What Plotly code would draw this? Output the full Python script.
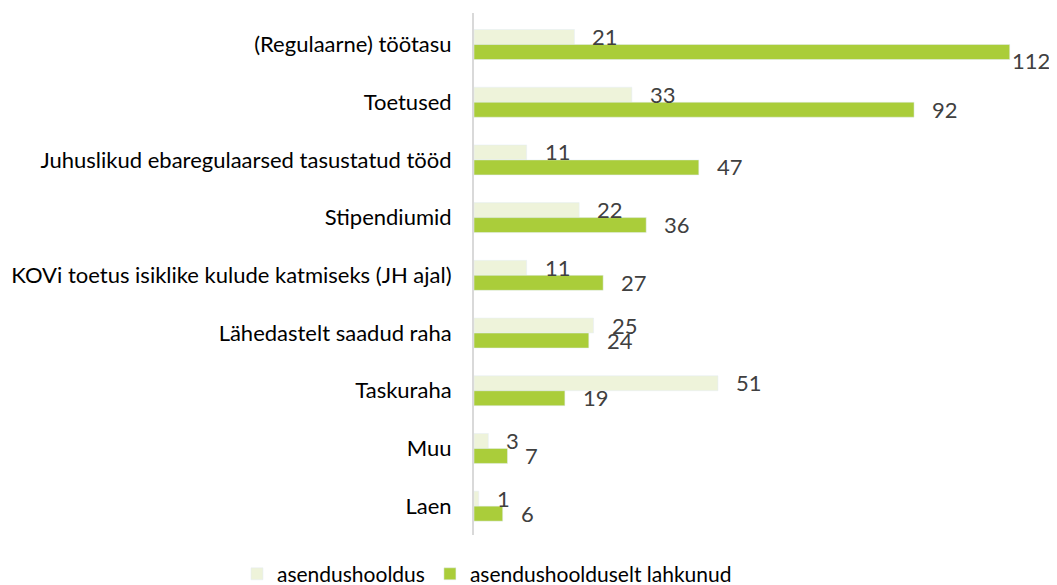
import plotly.graph_objects as go

categories = [
    "(Regulaarne) töötasu",
    "Toetused",
    "Juhuslikud ebaregulaarsed tasustatud tööd",
    "Stipendiumid",
    "KOVi toetus isiklike kulude katmiseks (JH ajal)",
    "Lähedastelt saadud raha",
    "Taskuraha",
    "Muu",
    "Laen",
]
asendushooldus = [21, 33, 11, 22, 11, 25, 51, 3, 1]
lahkunud = [112, 92, 47, 36, 27, 24, 19, 7, 6]
series_names = ["asendushooldus", "asendushoolduselt lahkunud"]

light = "#EEF3DA"
green = "#AACD3A"
font_family = "Lato, 'Open Sans', sans-serif"

fig = go.Figure()
fig.add_trace(go.Bar(y=categories, x=asendushooldus, orientation="h",
                     name=series_names[0], marker_color=light))
fig.add_trace(go.Bar(y=categories, x=lahkunud, orientation="h",
                     name=series_names[1], marker_color=green))

label_font = dict(size=22, color="#404040", family=font_family)
annotations = []
for c, v in zip(categories, asendushooldus):
    annotations.append(dict(x=v, y=c, text=str(v), showarrow=False, xanchor="left",
                            xshift=16, yshift=8, font=label_font))
vmax = max(lahkunud)
for c, v in zip(categories, lahkunud):
    big = v == vmax
    annotations.append(dict(x=v, y=c, text=str(v), showarrow=False, xanchor="left",
                            xshift=0 if big else 16, yshift=-16 if big else -7,
                            font=label_font))

fig.update_layout(
    width=1041, height=577,
    margin=dict(l=466, r=1, t=5, b=50, autoexpand=False),
    paper_bgcolor="white", plot_bgcolor="white",
    barmode="group", bargap=0.48, bargroupgap=0,
    font=dict(family=font_family, size=22, color="#000000"),
    annotations=annotations,
    showlegend=True,
    legend=dict(orientation="h", x=0.0226, xanchor="center", y=-0.075, yanchor="middle",
                font=dict(size=21, color="#000000"), traceorder="normal"),
    xaxis=dict(range=[0, 120], visible=False, showgrid=False, zeroline=False),
    yaxis=dict(autorange="reversed", showline=True, linecolor="#D9D9D9", linewidth=2,
               ticks="", showgrid=False, ticklabelstandoff=16, automargin=False,
               tickfont=dict(size=22, color="#000000")),
)

fig.write_html("out.html")
